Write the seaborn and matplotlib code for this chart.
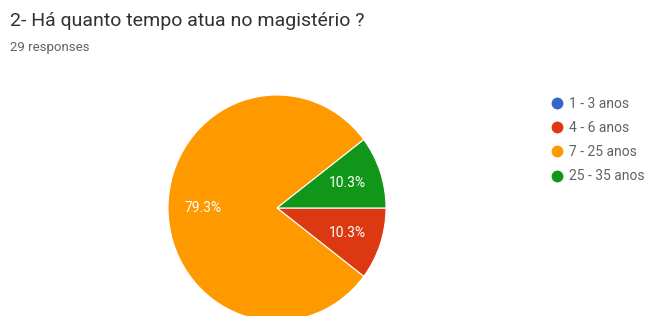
import matplotlib
matplotlib.use('Agg')
import matplotlib.pyplot as plt
import seaborn as sns
from matplotlib.lines import Line2D

sns.set_theme(style='white')
plt.rcParams['font.family'] = ['Roboto', 'DejaVu Sans']

# dados do gráfico
categorias = ['1 - 3 anos', '4 - 6 anos', '7 - 25 anos', '25 - 35 anos']
respostas = [0, 3, 23, 3]
cores = ['#3366cc', '#dc3912', '#ff9900', '#109618']
titulo = '2- Há quanto tempo atua no magistério ?'
subtitulo = '29 responses'

fig = plt.figure(figsize=(6.5, 3.16), dpi=100)
fig.patch.set_facecolor('white')

# área da pizza (centro ~ (277, 208), raio ~ 110 px)
ax = fig.add_axes([168 / 650, (316 - 208 - 113) / 316, 218 / 650, 226 / 316])
ax.pie(respostas, colors=cores, startangle=0, counterclock=False,
       autopct=lambda p: f'{p:.1f}%' if p > 0 else '', pctdistance=0.68,
       wedgeprops={'edgecolor': 'white', 'linewidth': 0.8},
       textprops={'color': 'white', 'fontsize': 10}, radius=1)
ax.set_xlim(-1, 1)
ax.set_ylim(-1, 1)
ax.set_aspect('auto')

fig.text(10 / 650, 1 - 21 / 316, titulo, fontsize=14, color='#303134', va='center')
fig.text(10 / 650, 1 - 47.5 / 316, subtitulo, fontsize=9.5, color='#5f6368', va='center')

handles = [Line2D([0], [0], marker='o', color='none', markerfacecolor=c,
                  markeredgecolor=c, markersize=7.5) for c in cores]
fig.legend(handles, categorias, loc='upper left', bbox_to_anchor=(544 / 650, 1 - 91 / 316),
           frameon=False, fontsize=10, labelspacing=0.74, handletextpad=0.43,
           handlelength=1.0, borderaxespad=0, labelcolor='#5f6368')

plt.savefig('out.png', dpi=100)
